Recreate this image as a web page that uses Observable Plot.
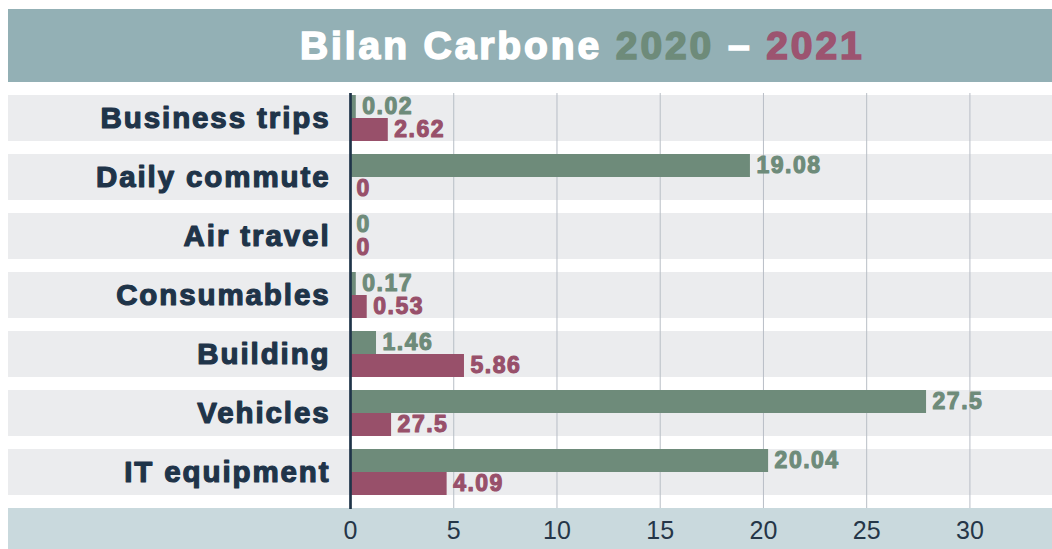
<!DOCTYPE html>
<html>
<head>
<meta charset="utf-8">
<script src="https://cdn.jsdelivr.net/npm/d3@7"></script>
<script src="https://cdn.jsdelivr.net/npm/@observablehq/plot@0.6"></script>
<style>
  html, body { margin: 0; padding: 0; background: #ffffff; }
  body { width: 1052px; height: 549px; overflow: hidden; position: relative; font-family: "Liberation Sans", Arial, sans-serif; }
  #title { position: absolute; left: 8px; top: 9px; width: 1044px; height: 73px; background: #93b0b5; }
  #title .t { position: absolute; left: 292px; top: 0; line-height: 73px; font-size: 39px; font-weight: bold;
              letter-spacing: 2.9px; white-space: nowrap; color: #ffffff; -webkit-text-stroke: 1.6px currentColor; }
  #title .g { color: #6e8b7a; }
  #title .r { color: #9c5470; }
  #axisband { position: absolute; left: 8px; top: 508px; width: 1044px; height: 41px; background: #c9d9dd; }
  #chart { position: absolute; left: 0; top: 88px; }
  #chart g[font-size="23"] text { letter-spacing: 1.5px; }
</style>
</head>
<body>
<div id="title"><span class="t">Bilan Carbone <span class="g">2020</span> – <span class="r">2021</span></span></div>
<div id="axisband"></div>
<div id="chart"></div>
<script>
// ---- data ----
const categories = ["Business trips", "Daily commute", "Air travel", "Consumables", "Building", "Vehicles", "IT equipment"];
// bar lengths as drawn in the picture
const bars2020 = [0.28, 19.37, 0, 0.28, 1.26, 27.9, 20.25];
const bars2021 = [1.83, 0, 0, 0.81, 5.52, 1.99, 4.68];
// value labels as printed in the picture
const labels2020 = ["0.02", "19.08", "0", "0.17", "1.46", "27.5", "20.04"];
const labels2021 = ["2.62", "0", "0", "0.53", "5.86", "27.5", "4.09"];
const xTicks = [0, 5, 10, 15, 20, 25, 30];
const xDomain = [0, 34];

const green = "#6e8b7a";
const red = "#98506a";
const navy = "#1f3449";

const rows2020 = categories.map((c, i) => ({cat: c, value: bars2020[i], label: labels2020[i]}));
const rows2021 = categories.map((c, i) => ({cat: c, value: bars2021[i], label: labels2021[i]}));

const W = 1052, H = 461;
const margins = {marginTop: 5, marginBottom: 52, marginLeft: 350, marginRight: 0};
const yOpts = {domain: categories, paddingInner: 0.216, paddingOuter: 0, tickSize: 0, tickPadding: 20, label: null};
const xOpts = {domain: xDomain, ticks: xTicks, tickSize: 0, tickPadding: 24, label: null};

// probe the band scale to get the bandwidth
const probe = Plot.plot({width: W, height: H, ...margins, x: xOpts, y: yOpts,
  marks: [Plot.barX(rows2020, {x: "value", y: "cat"})]});
const bw = probe.scale("y").bandwidth;

const chart = Plot.plot({
  width: W, height: H, ...margins,
  style: {background: "transparent", fontFamily: "Liberation Sans, Arial, sans-serif"},
  x: xOpts,
  y: yOpts,
  marks: [
    Plot.barX(categories, {x1: () => xDomain[0], x2: () => xDomain[1], y: d => d, fill: "#ebecee",
      insetLeft: -(margins.marginLeft - 8)}),
    Plot.ruleX(xTicks.slice(1), {stroke: "#b8bec6", strokeWidth: 1, insetBottom: -11}),
    Plot.barX(rows2020, {x: "value", y: "cat", fill: green, insetBottom: bw / 2}),
    Plot.barX(rows2021, {x: "value", y: "cat", fill: red, insetTop: bw / 2}),
    Plot.ruleX([0], {stroke: navy, strokeWidth: 2.7, insetBottom: -12}),
    Plot.text(rows2020, {x: "value", y: "cat", text: "label", dx: 6, dy: -bw / 4, textAnchor: "start",
      fill: green, stroke: green, strokeWidth: 1.1, fontSize: 23, fontWeight: "bold"}),
    Plot.text(rows2021, {x: "value", y: "cat", text: "label", dx: 6, dy: bw / 4, textAnchor: "start",
      fill: red, stroke: red, strokeWidth: 1.1, fontSize: 23, fontWeight: "bold"})
  ]
});

const svgNode = chart.tagName.toLowerCase() === "svg" ? chart : chart.querySelector("svg");
const svg = d3.select(svgNode);
svg.selectAll('[aria-label^="y-axis"]').raise();
svg.selectAll('[aria-label^="y-axis"] text')
  .attr("font-size", 29.5).attr("font-weight", "bold").attr("fill", navy)
  .attr("stroke", navy).attr("stroke-width", 1.2).attr("stroke-linejoin", "round")
  .style("letter-spacing", "1.9px");
svg.selectAll('[aria-label^="x-axis"] text')
  .attr("font-size", 25).attr("fill", "#253648");
document.getElementById("chart").appendChild(chart);
</script>
</body>
</html>
